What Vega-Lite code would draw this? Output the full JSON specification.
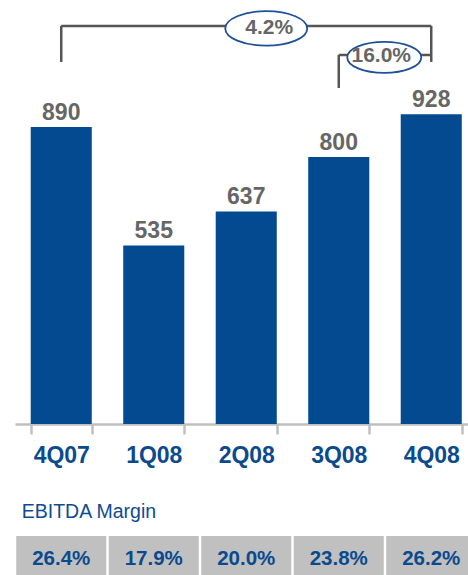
{
  "$schema": "https://vega.github.io/schema/vega-lite/v6.json",
  "width": 468,
  "height": 575,
  "autosize": {"type": "none"},
  "padding": 0,
  "background": "white",
  "config": {
    "view": {"stroke": null},
    "font": "Liberation Sans",
    "axisX": {
      "offset": -151, "labelAngle": 0, "tickBand": "extent", "title": null,
      "domainColor": "#BFBFBF", "domainWidth": 2.5, "tickColor": "#BFBFBF", "tickWidth": 2.5, "tickSize": 10,
      "labelFont": "Liberation Sans", "labelFontWeight": "bold", "labelFontSize": 23, "labelColor": "#0B4A8E", "labelPadding": 10
    }
  },
  "datasets": {
    "ebitda": [
      {"quarter": "4Q07", "value": 890, "margin": "26.4%"},
      {"quarter": "1Q08", "value": 535, "margin": "17.9%"},
      {"quarter": "2Q08", "value": 637, "margin": "20.0%"},
      {"quarter": "3Q08", "value": 800, "margin": "23.8%"},
      {"quarter": "4Q08", "value": 928, "margin": "26.2%"}
    ],
    "growth": [
      {"label": "4.2%", "from": "4Q07", "to": "4Q08", "level": 1193, "fromBase": 1085, "toBase": 1085},
      {"label": "16.0%", "from": "3Q08", "to": "4Q08", "level": 1106, "fromBase": 1007, "toBase": 1106}
    ],
    "caption": [{"label": "EBITDA Margin"}]
  },
  "layer": [
    {
      "data": {"name": "ebitda"},
      "mark": {"type": "bar", "color": "#034A90"},
      "encoding": {
        "x": {
          "field": "quarter", "type": "nominal", "title": null,
          "scale": {"domain": ["4Q07", "1Q08", "2Q08", "3Q08", "4Q08"], "range": [15, 477.5], "paddingInner": 0.34, "paddingOuter": 0.17},
          "axis": {"offset": -151, "labelAngle": 0, "tickBand": "extent", "title": null}
        },
        "y": {"field": "value", "type": "quantitative", "title": null, "axis": null,
          "scale": {"domain": [-452.5, 1270.6], "nice": false, "zero": false}}
      }
    },
    {
      "data": {"name": "ebitda"},
      "mark": {"type": "text", "dy": -7, "baseline": "alphabetic", "fontSize": 23, "fontWeight": "bold", "color": "#666666", "font": "Liberation Sans"},
      "encoding": {
        "x": {"field": "quarter", "type": "nominal", "title": null},
        "y": {"field": "value", "type": "quantitative", "axis": null, "title": null},
        "text": {"field": "value", "type": "quantitative"}
      }
    },
    {
      "data": {"name": "ebitda"},
      "mark": {"type": "bar", "color": "#C0C0C0", "width": {"band": 1.475}},
      "encoding": {
        "x": {"field": "quarter", "type": "nominal", "title": null},
        "y": {"datum": -336, "type": "quantitative", "axis": null},
        "y2": {"datum": -460}
      }
    },
    {
      "data": {"name": "ebitda"},
      "mark": {"type": "text", "baseline": "middle", "fontSize": 20.5, "fontWeight": "bold", "color": "#0B4A8E", "font": "Liberation Sans"},
      "encoding": {
        "x": {"field": "quarter", "type": "nominal", "title": null},
        "y": {"datum": -405, "type": "quantitative", "axis": null},
        "text": {"field": "margin", "type": "nominal"}
      }
    },
    {
      "data": {"name": "caption"},
      "mark": {"type": "text", "align": "left", "baseline": "middle", "dx": -39.5, "fontSize": 19.5, "color": "#0D4C92", "font": "Liberation Sans"},
      "encoding": {
        "x": {"datum": "4Q07", "type": "nominal", "title": null},
        "y": {"datum": -263.7, "type": "quantitative", "axis": null},
        "text": {"field": "label", "type": "nominal"}
      }
    },
    {
      "data": {"name": "growth"},
      "mark": {"type": "rule", "color": "#555555", "strokeWidth": 2.5},
      "encoding": {
        "x": {"field": "from", "type": "nominal", "title": null},
        "y": {"field": "fromBase", "type": "quantitative", "axis": null, "title": null},
        "y2": {"field": "level"}
      }
    },
    {
      "data": {"name": "growth"},
      "mark": {"type": "rule", "color": "#555555", "strokeWidth": 2.5},
      "encoding": {
        "x": {"field": "to", "type": "nominal", "title": null},
        "y": {"field": "toBase", "type": "quantitative", "axis": null, "title": null},
        "y2": {"field": "level"}
      }
    },
    {
      "data": {"name": "growth"},
      "mark": {"type": "rule", "color": "#555555", "strokeWidth": 2.5},
      "encoding": {
        "x": {"field": "from", "type": "nominal", "title": null},
        "x2": {"field": "to"},
        "y": {"field": "level", "type": "quantitative", "axis": null, "title": null}
      }
    },
    {
      "data": {"name": "growth"},
      "transform": [{"filter": "datum.label === '4.2%'"}],
      "mark": {"type": "point", "shape": "M-1,0C-1,-0.232,-0.5523,-0.42,0,-0.42C0.5523,-0.42,1,-0.232,1,0C1,0.232,0.5523,0.42,0,0.42C-0.5523,0.42,-1,0.232,-1,0Z", "size": 6724, "filled": true, "fill": "white", "fillOpacity": 1, "stroke": "#1F5199", "strokeWidth": 1.8, "opacity": 1, "xOffset": 20, "yOffset": 2.5},
      "encoding": {
        "x": {"datum": "2Q08", "type": "nominal", "title": null},
        "y": {"field": "level", "type": "quantitative", "axis": null, "title": null}
      }
    },
    {
      "data": {"name": "growth"},
      "transform": [{"filter": "datum.label === '4.2%'"}],
      "mark": {"type": "text", "baseline": "middle", "fontSize": 21, "fontWeight": "bold", "color": "#666666", "font": "Liberation Sans", "xOffset": 23, "yOffset": 2.5},
      "encoding": {
        "x": {"datum": "2Q08", "type": "nominal", "title": null},
        "y": {"field": "level", "type": "quantitative", "axis": null, "title": null},
        "text": {"field": "label", "type": "nominal"}
      }
    },
    {
      "data": {"name": "growth"},
      "transform": [{"filter": "datum.label === '16.0%'"}],
      "mark": {"type": "point", "shape": "M-1,0C-1,-0.232,-0.5523,-0.42,0,-0.42C0.5523,-0.42,1,-0.232,1,0C1,0.232,0.5523,0.42,0,0.42C-0.5523,0.42,-1,0.232,-1,0Z", "size": 5476, "filled": true, "fill": "white", "fillOpacity": 1, "stroke": "#1F5199", "strokeWidth": 1.8, "opacity": 1, "xOffset": 45.5, "yOffset": 2.5},
      "encoding": {
        "x": {"datum": "3Q08", "type": "nominal", "title": null},
        "y": {"field": "level", "type": "quantitative", "axis": null, "title": null}
      }
    },
    {
      "data": {"name": "growth"},
      "transform": [{"filter": "datum.label === '16.0%'"}],
      "mark": {"type": "text", "baseline": "middle", "fontSize": 21, "fontWeight": "bold", "color": "#666666", "font": "Liberation Sans", "xOffset": 42.5, "yOffset": 1.5},
      "encoding": {
        "x": {"datum": "3Q08", "type": "nominal", "title": null},
        "y": {"field": "level", "type": "quantitative", "axis": null, "title": null},
        "text": {"field": "label", "type": "nominal"}
      }
    }
  ]
}
